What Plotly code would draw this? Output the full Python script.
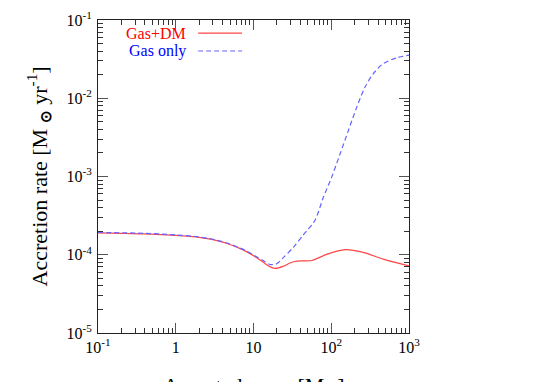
import plotly.graph_objects as go

# accreted mass [Msun] and accretion rate [Msun/yr]
mass_dm = [0.1, 0.2, 0.4, 1.0, 1.8, 2.9, 4.7, 7.8, 10.4, 13.4, 16, 18.9, 24, 30, 36, 56, 87, 150, 258, 467, 1000]
rate_dm = [1.90e-4, 1.88e-4, 1.85e-4, 1.77e-4, 1.69e-4, 1.57e-4, 1.38e-4, 1.12e-4, 9.5e-5, 8.0e-5, 7.1e-5,
           6.7e-5, 7.1e-5, 7.9e-5, 8.3e-5, 8.45e-5, 1.01e-4, 1.16e-4, 1.07e-4, 8.8e-5, 7.2e-5]

mass_gas = [0.1, 0.4, 1.0, 1.8, 2.9, 4.7, 7.8, 10.4, 13.4, 16.3, 19.9, 24.2, 32.5, 43.7, 61.8, 79, 101, 130,
            166, 213, 272, 348, 467, 695, 1000]
rate_gas = [1.93e-4, 1.88e-4, 1.79e-4, 1.71e-4, 1.59e-4, 1.40e-4, 1.14e-4, 9.7e-5, 8.4e-5, 7.5e-5, 7.7e-5,
            9.2e-5, 1.24e-4, 1.79e-4, 2.76e-4, 5.4e-4, 9.75e-4, 1.95e-3, 3.87e-3, 7.7e-3, 1.39e-2, 2.07e-2,
            2.78e-2, 3.28e-2, 3.56e-2]

x_tickvals = [0.1, 1, 10, 100, 1000]
x_ticktext = ["10<sup>-1</sup>", "1", "10", "10<sup>2</sup>", "10<sup>3</sup>"]
y_tickvals = [1e-5, 1e-4, 1e-3, 1e-2, 1e-1]
y_ticktext = ["10<sup>-5</sup>", "10<sup>-4</sup>", "10<sup>-3</sup>", "10<sup>-2</sup>", "10<sup>-1</sup>"]

minor_x = [m * 10.0 ** e for e in range(-1, 3) for m in range(2, 10)]
minor_y = [m * 10.0 ** e for e in range(-5, -1) for m in range(2, 10)]

FONT = "Liberation Serif"

fig = go.Figure()
fig.add_trace(go.Scatter(x=mass_dm, y=rate_dm, mode="lines", name="Gas+DM",
                         line=dict(color="rgb(255,70,70)", width=1.2, shape="spline", smoothing=0.8),
                         showlegend=False))
fig.add_trace(go.Scatter(x=mass_gas, y=rate_gas, mode="lines", name="Gas only",
                         line=dict(color="rgb(100,100,255)", width=1.2, dash="5px,3px", shape="spline", smoothing=0.8),
                         showlegend=False))

axis_common = dict(type="log", showline=True, linecolor="#222", linewidth=1, mirror="allticks",
                   ticks="inside", ticklen=10, tickcolor="#555", tickwidth=1.2, showgrid=False,
                   zeroline=False, automargin=False, tickfont=dict(family=FONT, size=16, color="black"),
                   tickmode="array")

fig.update_xaxes(range=[-1, 3], tickvals=x_tickvals, ticktext=x_ticktext,
                 minor=dict(tickvals=minor_x, ticks="inside", ticklen=5, tickcolor="#333", showgrid=False),
                 ticklabelstandoff=0, **axis_common)
fig.update_yaxes(range=[-5, -1], tickvals=y_tickvals, ticktext=y_ticktext,
                 minor=dict(tickvals=minor_y, ticks="inside", ticklen=5, tickcolor="#333", showgrid=False),
                 ticklabelstandoff=2, **axis_common)

# axis titles as annotations so they sit where gnuplot put them (x title runs off the bottom)
fig.add_annotation(x=0.5, y=-0.121, xref="paper", yref="paper", xanchor="center", yanchor="top",
                   text="Accreted mass [M<sub><b>⊙</b></sub>]", showarrow=False,
                   font=dict(family=FONT, size=22, color="black"))
fig.add_annotation(x=-0.19, y=0.5, xref="paper", yref="paper", xanchor="center", yanchor="middle",
                   textangle=-90, text="Accretion rate [M <sub><b>⊙</b></sub> yr<sup>-1</sup>]", showarrow=False,
                   font=dict(family=FONT, size=22, color="black"))

# gnuplot style key: label, then line sample
fig.add_annotation(x=0.289, y=0.958, xref="paper", yref="paper", xanchor="right", yanchor="middle",
                   text="Gas+DM", showarrow=False, font=dict(family=FONT, size=16, color="red"))
fig.add_annotation(x=0.289, y=0.901, xref="paper", yref="paper", xanchor="right", yanchor="middle",
                   text="Gas only", showarrow=False, font=dict(family=FONT, size=16, color="blue"))
fig.add_shape(type="line", xref="paper", yref="paper", x0=0.322, x1=0.463, y0=0.958, y1=0.958,
              line=dict(color="rgb(255,70,70)", width=1.2))
fig.add_shape(type="line", xref="paper", yref="paper", x0=0.322, x1=0.463, y0=0.901, y1=0.901,
              line=dict(color="rgb(100,100,255)", width=1.2, dash="5px,3px"))

# the page body keeps its default 8px margin, so the figure is 8px smaller and the margins compensate
fig.update_layout(width=537, height=374, margin=dict(l=90, r=136, t=12, b=49),
                  plot_bgcolor="white", paper_bgcolor="white",
                  font=dict(family=FONT, color="black"))

fig.write_html("out.html")
